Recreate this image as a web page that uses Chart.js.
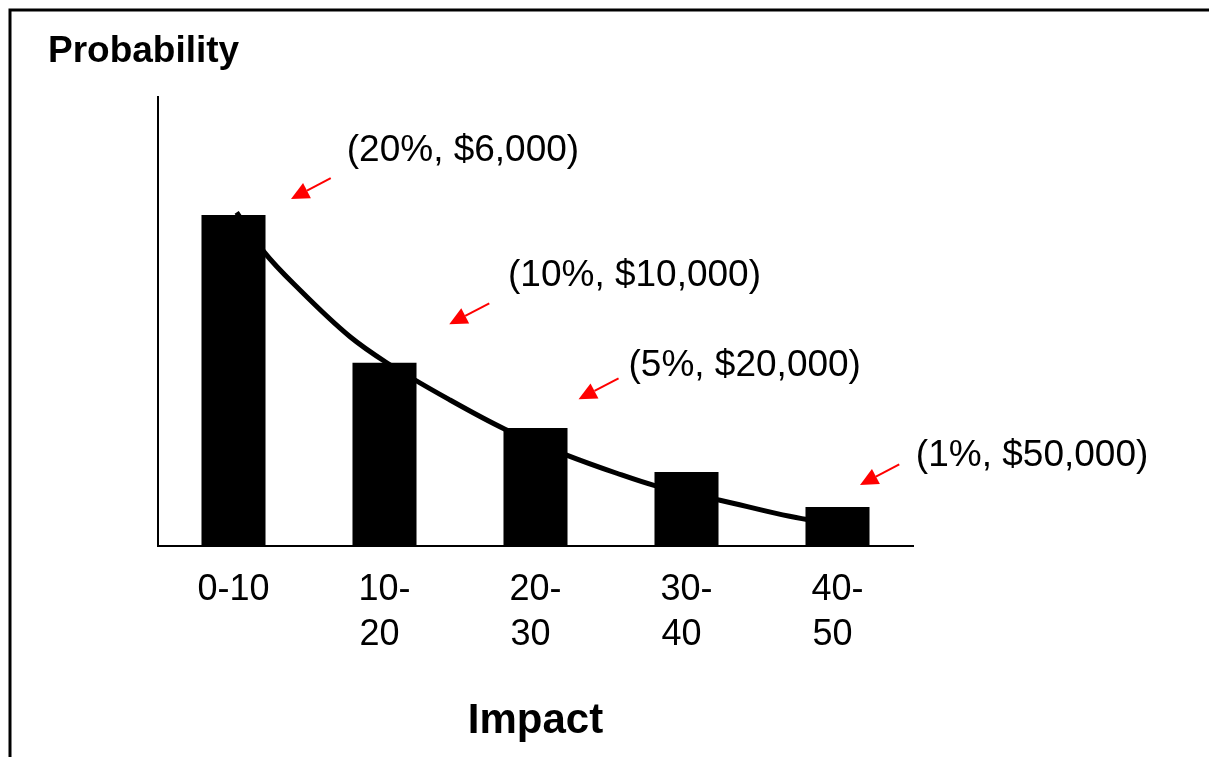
<!DOCTYPE html>
<html>
<head>
<meta charset="utf-8">
<title>Probability vs Impact</title>
<script src="https://cdn.jsdelivr.net/npm/chart.js@4.4.1/dist/chart.umd.min.js"></script>
<style>
  html, body { margin: 0; padding: 0; background: #ffffff; overflow: hidden; }
  canvas { display: block; }
</style>
</head>
<body>
<canvas id="chart" width="1209" height="757"></canvas>
<script>
// Impact bands (category labels, wrapped like the original slide text)
const categories = [['0-10'], ['10-', '20 '], ['20-', '30 '], ['30-', '40 '], ['40-', '50 ']];

// Relative probability of each impact band (bar heights, axis runs 0..100)
const barValues = [73.7, 40.8, 26.3, 16.5, 8.7];

// Trend curve drawn behind the bars (x in band units 0..5, y on the same 0..100 axis)
const curveX = [0.521, 0.702, 0.940, 1.272, 1.515, 1.934, 2.298, 2.702, 3.038, 3.285, 3.722, 4.298, 4.503];
const curveY = [74.3, 65.5, 57.0, 46.6, 40.8, 32.5, 26.0, 20.3, 16.2, 13.5, 10.2, 5.9, 5.3];

// Callout labels and their red arrows (positions in the same data units)
const calloutText = ['(20%, $6,000)', '(10%, $10,000)', '(5%, $20,000)', '(1%, $50,000)'];
const calloutTextX = [1.250, 2.318, 3.116, 5.019];
const calloutTextY = [85.7, 57.9, 37.8, 17.75];
const arrowTailX = [1.144, 2.194, 3.050, 4.909];
const arrowTailY = [81.9, 54.05, 37.35, 18.20];
const arrowTipX = [0.881, 1.929, 2.785, 4.649];
const arrowTipY = [77.28, 49.38, 32.67, 13.59];

const FONT = '"Liberation Sans", Arial, Helvetica, sans-serif';

// Outer frame around the slide
const framePlugin = {
  id: 'frame',
  afterDraw(chart) {
    const ctx = chart.ctx;
    ctx.save();
    ctx.strokeStyle = '#000000';
    ctx.lineWidth = 3;
    ctx.strokeRect(10, 10, 3000, 3000);
    ctx.restore();
  }
};

// Red arrows with their value callouts
const calloutPlugin = {
  id: 'callouts',
  afterDatasetsDraw(chart) {
    const ctx = chart.ctx;
    const xs = chart.scales.xc;
    const ys = chart.scales.y;
    ctx.save();
    ctx.strokeStyle = '#ff0000';
    ctx.fillStyle = '#ff0000';
    ctx.lineWidth = 2;
    const headLen = 18, headHalf = 8.5;
    for (let i = 0; i < calloutText.length; i++) {
      const x0 = xs.getPixelForValue(arrowTailX[i]);
      const y0 = ys.getPixelForValue(arrowTailY[i]);
      const x1 = xs.getPixelForValue(arrowTipX[i]);
      const y1 = ys.getPixelForValue(arrowTipY[i]);
      const a = Math.atan2(y1 - y0, x1 - x0);
      const bx = x1 - headLen * Math.cos(a);
      const by = y1 - headLen * Math.sin(a);
      ctx.beginPath();
      ctx.moveTo(x0, y0);
      ctx.lineTo(bx, by);
      ctx.stroke();
      ctx.beginPath();
      ctx.moveTo(x1, y1);
      ctx.lineTo(bx + headHalf * Math.sin(a), by - headHalf * Math.cos(a));
      ctx.lineTo(bx - headHalf * Math.sin(a), by + headHalf * Math.cos(a));
      ctx.closePath();
      ctx.fill();
    }
    ctx.fillStyle = '#000000';
    ctx.font = '37px ' + FONT;
    ctx.textAlign = 'left';
    ctx.textBaseline = 'alphabetic';
    for (let i = 0; i < calloutText.length; i++) {
      ctx.fillText(calloutText[i], xs.getPixelForValue(calloutTextX[i]), ys.getPixelForValue(calloutTextY[i]));
    }
    ctx.restore();
  }
};

new Chart(document.getElementById('chart'), {
  type: 'bar',
  data: {
    labels: categories,
    datasets: [
      {
        type: 'bar',
        data: barValues,
        backgroundColor: '#000000',
        borderWidth: 0,
        grouped: false,
        barPercentage: 0.424,
        categoryPercentage: 1.0,
        xAxisID: 'x',
        yAxisID: 'y'
      },
      {
        type: 'line',
        data: curveX.map((x, i) => ({ x: x, y: curveY[i] })),
        borderColor: '#000000',
        borderWidth: 5,
        pointRadius: 0,
        fill: false,
        cubicInterpolationMode: 'monotone',
        xAxisID: 'xc',
        yAxisID: 'y'
      }
    ]
  },
  options: {
    responsive: false,
    animation: false,
    devicePixelRatio: 1,
    layout: { padding: { left: 48, right: 296, top: 0, bottom: 0 } },
    plugins: {
      legend: { display: false },
      tooltip: { enabled: false },
      title: {
        display: true,
        text: 'Probability',
        align: 'start',
        color: '#000000',
        font: { family: FONT, size: 37, weight: 'bold', lineHeight: 1.2 },
        padding: { top: 29.5, bottom: 23 }
      }
    },
    scales: {
      x: {
        type: 'category',
        offset: true,
        grid: { display: false, drawTicks: false },
        border: { display: true, color: '#000000', width: 2 },
        ticks: {
          color: '#000000',
          font: { family: FONT, size: 36, lineHeight: 1.264 },
          padding: 21,
          maxRotation: 0,
          minRotation: 0,
          autoSkip: false
        },
        title: {
          display: true,
          text: 'Impact',
          color: '#000000',
          font: { family: FONT, size: 42, weight: 'bold', lineHeight: 1.2 },
          padding: { top: 0, bottom: 10.5 }
        },
        afterFit(scale) { scale.height = 211; }
      },
      xc: {
        type: 'linear',
        display: false,
        offset: false,
        min: 0,
        max: 5
      },
      y: {
        min: 0,
        max: 100,
        grid: { display: false, drawTicks: false },
        border: { display: true, color: '#000000', width: 2 },
        ticks: { display: false },
        afterFit(scale) { scale.width = 110; }
      }
    }
  },
  plugins: [calloutPlugin, framePlugin]
});
</script>
</body>
</html>
